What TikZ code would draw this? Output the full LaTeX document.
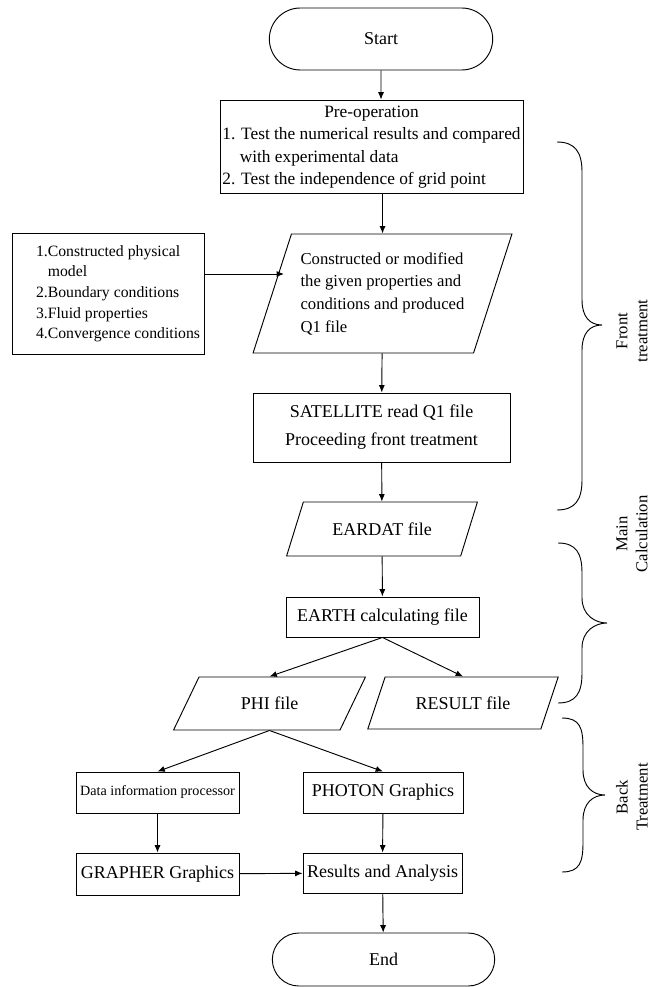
\documentclass[tikz,border=0pt]{standalone}
\usepackage{fontspec}
\setmainfont{Liberation Serif}
\usetikzlibrary{shapes.geometric,shapes.misc,arrows.meta}
\begin{document}
\begin{tikzpicture}[x=0.75pt,y=-0.75pt,line width=0.7pt,
    box/.style={draw,rectangle,inner sep=1pt,font=\fontsize{13.5}{16}\selectfont},
    term/.style={draw,rounded rectangle,inner sep=1pt,font=\fontsize{13.5}{16}\selectfont},
    io/.style={draw,trapezium,trapezium stretches=true,inner sep=1pt,font=\fontsize{13.5}{16}\selectfont},
    arr/.style={-{Latex[length=5.5pt,width=4.5pt]}},
    side/.style={rotate=90,align=center,font=\fontsize{12.5}{15}\selectfont}]
    \useasboundingbox (0,0) rectangle (654,987);
    \node[term,minimum width=169.5pt,minimum height=46.5pt] (start) at (381,39) {Start};
    \node[box,minimum width=227.25pt,minimum height=69.75pt,font=\fontsize{13}{16.7}\selectfont] (preop) at (371.5,146.5) {\begin{tabular}{@{}l@{}}\multicolumn{1}{@{}c@{}}{Pre-operation}\\1. Test the numerical results and compared\\\hspace*{1em}with experimental data\\2. Test the independence of grid point\end{tabular}};
    \node[box,minimum width=144pt,minimum height=90.75pt,font=\fontsize{11.8}{15.5}\selectfont] (model) at (108,293.5) {\hspace*{15pt}\begin{tabular}{@{}l@{}}1.Constructed physical\\\phantom{1.}model\\2.Boundary conditions\\3.Fluid properties\\4.Convergence conditions\end{tabular}};
    \node[io,trapezium left angle=67.6,trapezium right angle=112.4,minimum width=194.25pt,minimum height=89.25pt,align=left,font=\fontsize{12.5}{17}\selectfont] (q1) at (382.5,293.5) {Constructed or modified\\the given properties and\\conditions and produced\\Q1 file};
    \node[box,minimum width=192.75pt,minimum height=51.75pt,align=center,font=\fontsize{13.5}{21}\selectfont] (sat) at (381.5,427.5) {SATELLITE read Q1 file\\Proceeding front treatment};
    \node[io,trapezium left angle=55,trapezium right angle=125,minimum width=144pt,minimum height=40.5pt] (eardat) at (382,529) {EARDAT file};
    \node[box,minimum width=144.75pt,minimum height=30pt] (earth) at (382.5,617) {EARTH calculating file};
    \node[io,trapezium left angle=55,trapezium right angle=125,minimum width=144.75pt,minimum height=39.75pt] (phi) at (269.5,703.5) {PHI file};
    \node[io,trapezium left angle=55,trapezium right angle=125,minimum width=144pt,minimum height=39pt] (result) at (463,703) {RESULT file};
    \node[box,minimum width=122.25pt,minimum height=30.75pt,font=\fontsize{10.6}{13}\selectfont] (data) at (157.5,792.5) {Data information processor};
    \node[box,minimum width=120pt,minimum height=30.75pt] (photon) at (383,792.5) {PHOTON Graphics};
    \node[box,minimum width=122.25pt,minimum height=31.5pt] (grapher) at (157.5,874) {GRAPHER Graphics};
    \node[box,minimum width=119.25pt,minimum height=30pt] (results) at (382.5,873) {Results and Analysis};
    \node[term,minimum width=168.75pt,minimum height=39.75pt] (end) at (383.5,959.5) {End};
    \coordinate (q1in) at (284,274);
    \draw[arr] (start) -- (start |- preop.north);
    \draw[arr] (q1 |- preop.south) -- (q1);
    \draw[arr] (model.east |- q1in) -- (q1in);
    \draw[arr] (q1) -- (sat);
    \draw[arr] (sat) -- (eardat);
    \draw[arr] (eardat) -- (earth);
    \draw[arr] (earth.south) -- (phi.north);
    \draw[arr] (earth.south) -- (result.north);
    \draw[arr] (phi.south) -- (data.north);
    \draw[arr] (phi.south) -- (photon.north);
    \draw[arr] (data) -- (grapher);
    \draw[arr] (photon) -- (results);
    \draw[arr] (grapher) -- (results);
    \draw[arr] (results) -- (end);
    \foreach \xa/\xb/\xc/\ya/\yb/\yc in {557/582/602/142/325/510,558/582/607/543/623/703,562/583/605/718/795/872}
        \draw (\xa,\ya) .. controls (\xa+18,\ya) and (\xb,\ya+10) .. (\xb,\ya+30) -- (\xb,\yb-25) .. controls (\xb,\yb-8) and (\xc-12,\yb) .. (\xc,\yb) .. controls (\xc-12,\yb) and (\xb,\yb+8) .. (\xb,\yb+25) -- (\xb,\yc-30) .. controls (\xb,\yc-10) and (\xa+18,\yc) .. (\xa,\yc);
    \node[side] (frontlab) at (632,331) {Front\\treatment};
    \node[side] (mainlab) at (632,534) {Main\\Calculation};
    \node[side] (backlab) at (632,797) {Back\\Treatment};
\end{tikzpicture}
\end{document}
